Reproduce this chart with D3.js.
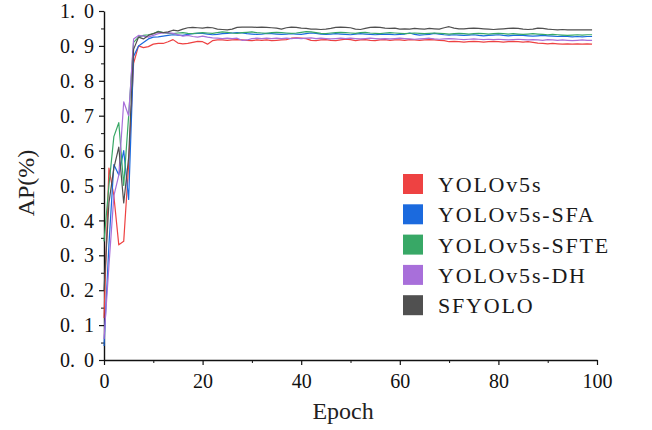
<!DOCTYPE html>
<html>
<head>
<meta charset="utf-8">
<script src="https://cdn.jsdelivr.net/npm/d3@7"></script>
<style>
  body { margin: 0; background: #fff; }
  svg { display: block; }
  .axis path, .axis line { stroke: #111; }
</style>
</head>
<body>
<div id="chart"></div>
<script>
// epochs 0..99
var epochs = d3.range(0, 100);

var seriesNames = ["YOLOv5s", "YOLOv5s-SFA", "YOLOv5s-SFTE", "YOLOv5s-DH", "SFYOLO"];
var seriesColors = ["#ee4242", "#1b6ade", "#38a866", "#a86fda", "#505050"];

var yolov5s = [
  0.12, 0.55, 0.47, 0.33, 0.34, 0.56, 0.85, 0.900, 0.895, 0.898,
  0.905, 0.907, 0.907, 0.912, 0.918, 0.908, 0.906, 0.907, 0.910, 0.913,
  0.912, 0.905, 0.915, 0.917, 0.917, 0.916, 0.917, 0.918, 0.917, 0.916,
  0.915, 0.917, 0.916, 0.917, 0.915, 0.916, 0.917, 0.918, 0.922, 0.923,
  0.922, 0.921, 0.916, 0.915, 0.917, 0.918, 0.916, 0.915, 0.917, 0.919,
  0.918, 0.915, 0.917, 0.918, 0.916, 0.915, 0.917, 0.918, 0.916, 0.917,
  0.917, 0.916, 0.918, 0.917, 0.916, 0.917, 0.918, 0.917, 0.916, 0.915,
  0.912, 0.913, 0.912, 0.911, 0.912, 0.913, 0.912, 0.911, 0.912, 0.913,
  0.912, 0.911, 0.912, 0.913, 0.912, 0.911, 0.912, 0.910, 0.908, 0.907,
  0.906, 0.907, 0.906, 0.905, 0.906, 0.905, 0.906, 0.905, 0.906, 0.905
];

var yolov5sSFA = [
  0.04, 0.33, 0.56, 0.53, 0.60, 0.46, 0.87, 0.900, 0.910, 0.920,
  0.925, 0.926, 0.928, 0.930, 0.932, 0.931, 0.930, 0.933, 0.935, 0.936,
  0.936, 0.934, 0.932, 0.933, 0.935, 0.936, 0.937, 0.938, 0.937, 0.935,
  0.934, 0.933, 0.934, 0.936, 0.935, 0.934, 0.933, 0.934, 0.935, 0.934,
  0.933, 0.935, 0.937, 0.936, 0.934, 0.933, 0.934, 0.935, 0.934, 0.933,
  0.932, 0.934, 0.935, 0.934, 0.933, 0.932, 0.933, 0.934, 0.933, 0.932,
  0.933, 0.934, 0.937, 0.933, 0.931, 0.932, 0.933, 0.936, 0.934, 0.932,
  0.931, 0.932, 0.931, 0.930, 0.931, 0.932, 0.930, 0.929, 0.930, 0.931,
  0.932, 0.930, 0.929, 0.930, 0.931, 0.930, 0.929, 0.928, 0.929, 0.930,
  0.929, 0.928, 0.927, 0.928, 0.927, 0.926, 0.927, 0.926, 0.927, 0.927
];

var yolov5sSFTE = [
  0.34, 0.50, 0.64, 0.68, 0.50, 0.70, 0.91, 0.925, 0.930, 0.932,
  0.935, 0.942, 0.938, 0.936, 0.935, 0.937, 0.938, 0.936, 0.935, 0.937,
  0.938, 0.937, 0.936, 0.938, 0.940, 0.939, 0.937, 0.936, 0.938, 0.939,
  0.940, 0.938, 0.937, 0.936, 0.938, 0.939, 0.938, 0.937, 0.936, 0.937,
  0.939, 0.941, 0.940, 0.938, 0.936, 0.935, 0.937, 0.938, 0.939, 0.938,
  0.937, 0.936, 0.938, 0.939, 0.937, 0.936, 0.935, 0.937, 0.938, 0.937,
  0.936, 0.935, 0.936, 0.937, 0.936, 0.935, 0.936, 0.937, 0.936, 0.935,
  0.934, 0.935, 0.936, 0.935, 0.934, 0.935, 0.936, 0.935, 0.934, 0.935,
  0.936, 0.935, 0.934, 0.935, 0.934, 0.933, 0.934, 0.935, 0.934, 0.933,
  0.932, 0.933, 0.932, 0.931, 0.930, 0.931, 0.932, 0.931, 0.932, 0.932
];

var yolov5sDH = [
  0.06, 0.27, 0.47, 0.53, 0.74, 0.70, 0.92, 0.930, 0.928, 0.925,
  0.930, 0.935, 0.937, 0.938, 0.936, 0.932, 0.928, 0.930, 0.927, 0.925,
  0.928, 0.925, 0.923, 0.922, 0.921, 0.922, 0.921, 0.922, 0.916, 0.917,
  0.921, 0.922, 0.921, 0.922, 0.921, 0.922, 0.921, 0.922, 0.921, 0.922,
  0.921, 0.922, 0.923, 0.921, 0.922, 0.921, 0.920, 0.921, 0.922, 0.921,
  0.922, 0.921, 0.920, 0.921, 0.922, 0.921, 0.920, 0.921, 0.920, 0.921,
  0.922, 0.921, 0.920, 0.919, 0.920, 0.921, 0.922, 0.920, 0.919, 0.920,
  0.921, 0.920, 0.919, 0.918, 0.919, 0.920, 0.919, 0.918, 0.919, 0.918,
  0.919, 0.918, 0.917, 0.918, 0.919, 0.918, 0.917, 0.918, 0.917, 0.916,
  0.918, 0.917, 0.916, 0.917, 0.916, 0.915, 0.916, 0.917, 0.916, 0.916
];

var sfyolo = [
  0.20, 0.45, 0.55, 0.61, 0.45, 0.58, 0.89, 0.925, 0.920, 0.930,
  0.935, 0.940, 0.938, 0.940, 0.945, 0.943, 0.948, 0.952, 0.953, 0.952,
  0.951, 0.953, 0.952, 0.948, 0.947, 0.946, 0.948, 0.953, 0.954, 0.954,
  0.954, 0.953, 0.954, 0.953, 0.952, 0.951, 0.948, 0.952, 0.954, 0.953,
  0.951, 0.950, 0.948, 0.948, 0.947, 0.948, 0.950, 0.953, 0.954, 0.953,
  0.952, 0.948, 0.947, 0.950, 0.953, 0.954, 0.953, 0.951, 0.950, 0.951,
  0.948, 0.949, 0.948, 0.950, 0.949, 0.948, 0.950, 0.949, 0.948, 0.952,
  0.955, 0.951, 0.949, 0.949, 0.950, 0.951, 0.950, 0.949, 0.948, 0.947,
  0.948, 0.949, 0.950, 0.951, 0.950, 0.948, 0.947, 0.948, 0.951, 0.950,
  0.948, 0.947, 0.946, 0.947, 0.946, 0.946, 0.946, 0.946, 0.946, 0.946
];

var seriesValues = [yolov5s, yolov5sSFA, yolov5sSFTE, yolov5sDH, sfyolo];

var xTicks = [0, 20, 40, 60, 80, 100];
var xMinorTicks = [10, 30, 50, 70, 90];
var yTicks = [0, 0.1, 0.2, 0.3, 0.4, 0.5, 0.6, 0.7, 0.8, 0.9, 1.0];
var yMinorTicks = [0.05, 0.15, 0.25, 0.35, 0.45, 0.55, 0.65, 0.75, 0.85, 0.95];

var serifFont = "'Liberation Serif', 'Times New Roman', serif";

// chart setup
var svgWidth = 652;
var svgHeight = 430;

var margin = { top: 11, right: 55, bottom: 70, left: 104 };
var width = svgWidth - margin.left - margin.right;
var height = svgHeight - margin.top - margin.bottom;

var svg = d3.select("#chart")
  .append("svg")
  .attr("width", svgWidth)
  .attr("height", svgHeight)
  .style("font-family", serifFont);

var chartGroup = svg.append("g")
  .attr("transform", `translate(${margin.left}, ${margin.top})`);

var xScale = d3.scaleLinear().domain([0, 100]).range([0, width]);
var yScale = d3.scaleLinear().domain([0, 1]).range([height, 0]);

// minor ticks first
chartGroup.append("g")
  .attr("class", "axis")
  .attr("transform", `translate(0, ${height})`)
  .call(d3.axisBottom(xScale).tickValues(xMinorTicks).tickSize(3).tickFormat(""))
  .call(g => g.select(".domain").remove());

chartGroup.append("g")
  .attr("class", "axis")
  .call(d3.axisLeft(yScale).tickValues(yMinorTicks).tickSize(3).tickFormat(""))
  .call(g => g.select(".domain").remove());

// major axes
var bottomAxis = d3.axisBottom(xScale)
  .tickValues(xTicks)
  .tickSize(5)
  .tickSizeOuter(0)
  .tickPadding(4)
  .tickFormat(d3.format("d"));

var leftAxis = d3.axisLeft(yScale)
  .tickValues(yTicks)
  .tickSize(5)
  .tickSizeOuter(0)
  .tickPadding(5)
  .tickFormat(d3.format(".1f"));

chartGroup.append("g")
  .attr("class", "axis")
  .attr("transform", `translate(0, ${height})`)
  .call(bottomAxis)
  .attr("font-family", null)
  .call(g => g.select(".domain").attr("stroke-width", 1.4))
  .call(g => g.selectAll("line").attr("stroke-width", 1.2))
  .call(g => g.selectAll("text")
    .attr("fill", "#111")
    .style("font-family", serifFont)
    .style("font-size", "20px")
    .attr("dy", "0.95em"));

var yAxisGroup = chartGroup.append("g")
  .attr("class", "axis")
  .call(leftAxis)
  .attr("font-family", null)
  .call(g => g.select(".domain").attr("stroke-width", 1.4))
  .call(g => g.selectAll("line").attr("stroke-width", 1.2));

// y labels: digit, dot, gap, digit like the original
yAxisGroup.selectAll(".tick text").each(function (d) {
  var parts = d3.format(".1f")(d).split(".");
  var t = d3.select(this).text(null)
    .attr("fill", "#111")
    .style("font-family", serifFont)
    .style("font-size", "20px")
    .attr("dy", "0.33em");
  t.append("tspan").text(parts[0] + ".");
  t.append("tspan").attr("dx", "9").text(parts[1]);
});

// lines
var line = d3.line()
  .x((d, i) => xScale(epochs[i]))
  .y(d => yScale(d));

chartGroup.append("g")
  .selectAll("path")
  .data(seriesValues)
  .enter()
  .append("path")
  .attr("d", d => line(d))
  .attr("fill", "none")
  .attr("stroke", (d, i) => seriesColors[i])
  .attr("stroke-width", 1.2)
  .attr("stroke-linejoin", "round");

// legend
var legend = svg.append("g")
  .attr("transform", "translate(403, 174)");

var legendRows = legend.selectAll("g")
  .data(seriesNames)
  .enter()
  .append("g")
  .attr("transform", (d, i) => `translate(0, ${i * 30.3})`);

legendRows.append("rect")
  .attr("width", 20)
  .attr("height", 20)
  .attr("fill", (d, i) => seriesColors[i]);

legendRows.append("text")
  .attr("x", 35)
  .attr("y", 18)
  .attr("fill", "#1a1a1a")
  .style("font-size", "22px")
  .style("letter-spacing", "1.8px")
  .text(d => d);

// axis labels
chartGroup.append("text")
  .attr("transform", "rotate(-90)")
  .attr("y", 0 - margin.left + 34)
  .attr("x", 0 - 172)
  .attr("text-anchor", "middle")
  .attr("fill", "#222")
  .style("font-size", "24px")
  .text("AP(%)");

chartGroup.append("text")
  .attr("transform", `translate(${xScale(48.5)}, ${height + 59})`)
  .attr("text-anchor", "middle")
  .attr("fill", "#222")
  .style("font-size", "24px")
  .text("Epoch");
</script>
</body>
</html>
